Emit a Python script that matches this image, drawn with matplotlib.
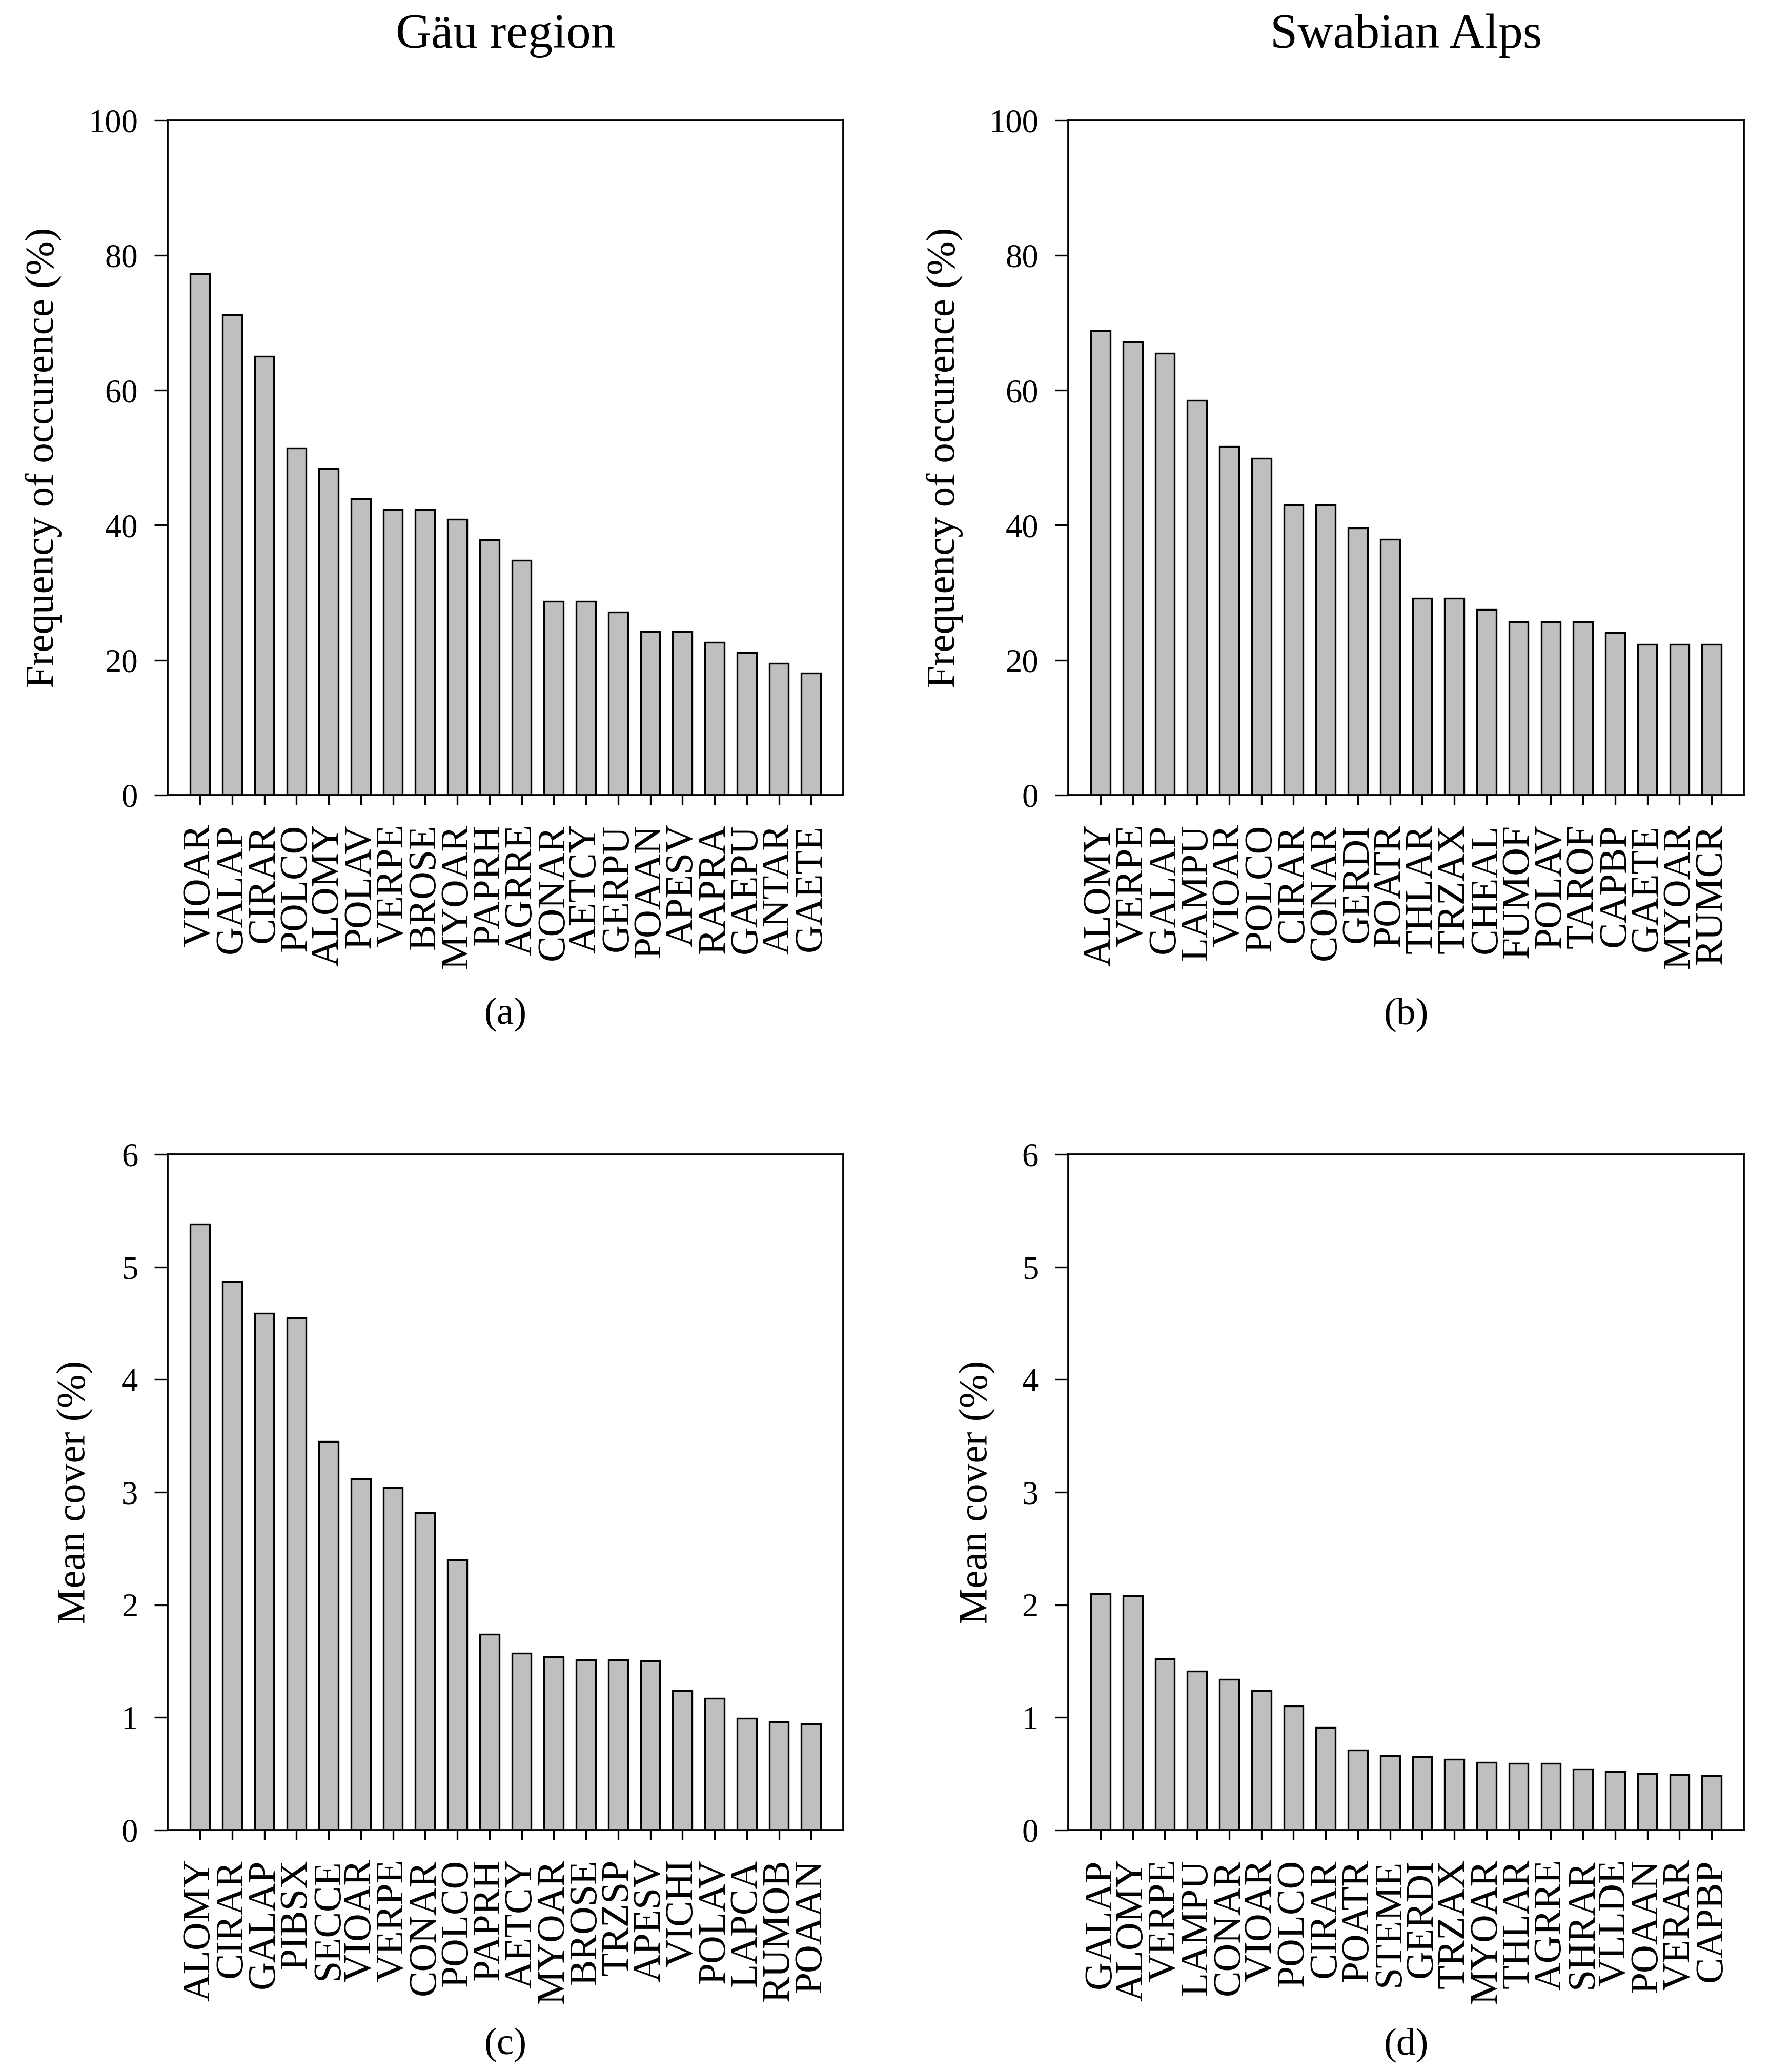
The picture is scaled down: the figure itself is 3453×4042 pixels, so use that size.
import matplotlib
matplotlib.use("Agg")
import matplotlib.pyplot as plt
import numpy as np

plt.rcParams['font.family'] = ['Liberation Serif', 'DejaVu Serif']

# ---- data ----
freq_gau_species = ["VIOAR", "GALAP", "CIRAR", "POLCO", "ALOMY", "POLAV", "VERPE", "BROSE",
                    "MYOAR", "PAPRH", "AGRRE", "CONAR", "AETCY", "GERPU", "POAAN", "APESV",
                    "RAPRA", "GAEPU", "ANTAR", "GAETE"]
freq_gau_values = [77.3, 71.2, 65.0, 51.4, 48.4, 43.9, 42.3, 42.3, 40.9, 37.8,
                   34.8, 28.7, 28.7, 27.1, 24.2, 24.2, 22.6, 21.1, 19.5, 18.1]

freq_alb_species = ["ALOMY", "VERPE", "GALAP", "LAMPU", "VIOAR", "POLCO", "CIRAR", "CONAR",
                    "GERDI", "POATR", "THLAR", "TRZAX", "CHEAL", "FUMOF", "POLAV", "TAROF",
                    "CAPBP", "GAETE", "MYOAR", "RUMCR"]
freq_alb_values = [68.8, 67.2, 65.5, 58.5, 51.7, 49.9, 43.0, 43.0, 39.6, 37.9,
                   29.2, 29.2, 27.5, 25.7, 25.7, 25.7, 24.1, 22.3, 22.3, 22.3]

cover_gau_species = ["ALOMY", "CIRAR", "GALAP", "PIBSX", "SECCE", "VIOAR", "VERPE", "CONAR",
                     "POLCO", "PAPRH", "AETCY", "MYOAR", "BROSE", "TRZSP", "APESV", "VICHI",
                     "POLAV", "LAPCA", "RUMOB", "POAAN"]
cover_gau_values = [5.38, 4.87, 4.59, 4.55, 3.45, 3.12, 3.04, 2.82, 2.40, 1.74,
                    1.57, 1.54, 1.51, 1.51, 1.50, 1.24, 1.17, 0.99, 0.96, 0.94]

cover_alb_species = ["GALAP", "ALOMY", "VERPE", "LAMPU", "CONAR", "VIOAR", "POLCO", "CIRAR",
                     "POATR", "STEME", "GERDI", "TRZAX", "MYOAR", "THLAR", "AGRRE", "SHRAR",
                     "VLLDE", "POAAN", "VERAR", "CAPBP"]
cover_alb_values = [2.10, 2.08, 1.52, 1.41, 1.34, 1.24, 1.10, 0.91, 0.71, 0.66,
                    0.65, 0.63, 0.60, 0.59, 0.59, 0.54, 0.52, 0.50, 0.49, 0.48]

column_titles = ["Gäu region", "Swabian Alps"]
panel_letters = ["(a)", "(b)", "(c)", "(d)"]
freq_ticks = [0, 20, 40, 60, 80, 100]
cover_ticks = [0, 1, 2, 3, 4, 5, 6]

# ---- figure ----
fig = plt.figure(figsize=(3453 / 300, 4042 / 300), dpi=300)

lefts = [0.0948, 0.6036]
width = 0.3816
rows = [(0.6163, 0.9419), (0.1168, 0.4428)]

panels = [
    (freq_gau_species, freq_gau_values, "Frequency of occurence (%)", freq_ticks, 0, 0),
    (freq_alb_species, freq_alb_values, "Frequency of occurence (%)", freq_ticks, 0, 1),
    (cover_gau_species, cover_gau_values, "Mean cover (%)", cover_ticks, 1, 0),
    (cover_alb_species, cover_alb_values, "Mean cover (%)", cover_ticks, 1, 1),
]

label_x_fig = {0: [0.0246, 0.5336], 1: [0.0425, 0.552]}
letter_y = [0.5104, 0.0131]

for i, (species, vals, ylabel, ticks, r, c) in enumerate(panels):
    bottom, top = rows[r]
    ax = fig.add_axes([lefts[c], bottom, width, top - bottom])
    x = np.arange(len(species))
    ax.bar(x, vals, width=0.6, color="#bfbfbf", edgecolor="black", linewidth=0.8, zorder=2)
    ax.set_xlim(-1, len(species))
    ax.set_ylim(ticks[0], ticks[-1])
    ax.set_yticks(ticks)
    ax.set_xticks(x)
    ax.set_xticklabels(species, rotation=90, fontsize=18.2)
    ax.tick_params(axis='y', labelsize=15.5, length=6.3, width=0.8, pad=7.7, direction='out')
    ax.tick_params(axis='x', length=4.6, width=0.8, pad=9.0, direction='out')
    for s in ax.spines.values():
        s.set_linewidth(0.9)
    ax.set_ylabel(ylabel, fontsize=19, va='center')
    lx = (label_x_fig[r][c] - lefts[c]) / width
    ax.yaxis.set_label_coords(lx, 0.5)
    fig.text(lefts[c] + width / 2, letter_y[r], panel_letters[i], ha='center', va='center', fontsize=18)
    if r == 0:
        fig.text(lefts[c] + width / 2, 0.9827, column_titles[c], ha='center', va='center', fontsize=23)

fig.savefig("out.png", dpi=300)
